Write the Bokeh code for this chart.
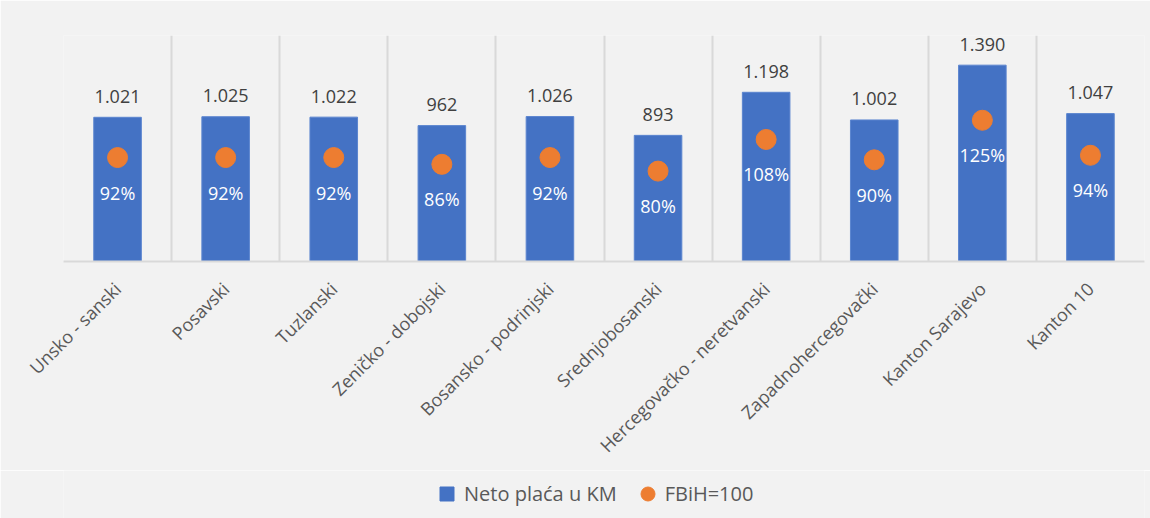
import math
from bokeh.plotting import figure
from bokeh.layouts import column
from bokeh.models import Range1d, FixedTicker, Legend, LegendItem
from bokeh.embed import file_html
from bokeh.resources import INLINE
from bokeh.core.properties import value

categories = ["Unsko - sanski", "Posavski", "Tuzlanski", "Zeničko - dobojski",
              "Bosansko - podrinjski", "Srednjobosanski", "Hercegovačko - neretvanski",
              "Zapadnohercegovački", "Kanton Sarajevo", "Kanton 10"]
neto_placa = [1021, 1025, 1022, 962, 1026, 893, 1198, 1002, 1390, 1047]
fbih_index = [92, 92, 92, 86, 92, 80, 108, 90, 125, 94]
series_names = ["Neto plaća u KM", "FBiH=100"]

placa_labels = [f"{v:,}".replace(",", ".") for v in neto_placa]
index_labels = [f"{v}%" for v in fbih_index]
xpos = [i + 0.5 for i in range(len(categories))]

FONT = "Open Sans"
BLUE = "#4472C4"
ORANGE = "#ED7D31"
GRID = "#D9D9D9"
BG = "#F2F2F2"

p = figure(width=1150, height=470, output_backend="svg", toolbar_location=None,
           x_range=Range1d(0, 10), y_range=Range1d(0, 1600),
           y_axis_location=None, min_border_left=63, min_border_right=6,
           min_border_top=35, min_border_bottom=209)
p.extra_y_ranges = {"pct": Range1d(0, 200)}
p.background_fill_color = BG
p.border_fill_color = BG
p.outline_line_color = None

p.vbar(x=xpos, top=neto_placa, width=0.44, bottom=0,
       fill_color=BLUE, line_color="#5B85CF", line_width=1)
p.scatter(x=xpos, y=fbih_index, y_range_name="pct", size=20,
          fill_color=ORANGE, line_color=ORANGE)

p.text(x=xpos, y=neto_placa, text=placa_labels, y_offset=-21,
       text_align="center", text_baseline="middle",
       text_font=value(FONT), text_font_size="18px", text_color="#404040")
p.text(x=xpos, y=fbih_index, y_range_name="pct", text=index_labels, y_offset=35,
       text_align="center", text_baseline="middle",
       text_font=value(FONT), text_font_size="18px", text_color="#FFFFFF")

ax = p.xaxis[0]
ax.ticker = FixedTicker(ticks=xpos)
ax.major_label_overrides = {x: c for x, c in zip(xpos, categories)}
ax.major_label_orientation = math.pi / 4
ax.major_label_text_font = FONT
ax.major_label_text_font_size = "18px"
ax.major_label_text_color = "#595959"
ax.major_tick_line_color = None
ax.minor_tick_line_color = None
ax.axis_line_color = GRID
ax.axis_line_width = 2
ax.major_label_standoff = 18

p.xgrid.ticker = FixedTicker(ticks=list(range(11)))
p.xgrid.grid_line_color = GRID
p.xgrid.grid_line_width = 2
p.ygrid.grid_line_color = None

# legend strip below the chart
lp = figure(width=1150, height=48, output_backend="svg", toolbar_location=None,
            x_range=Range1d(0, 1), y_range=Range1d(0, 1),
            x_axis_location=None, y_axis_location=None,
            min_border_left=63, min_border_right=6, min_border_top=0, min_border_bottom=0)
lp.background_fill_color = BG
lp.border_fill_color = BG
lp.outline_line_color = None
lp.grid.grid_line_color = None
# legend swatches: one point each, placed outside the visible range
lg_bar = lp.scatter(x=[-5], y=[-5], marker="square", size=14, fill_color=BLUE, line_color=BLUE)
lg_dot = lp.scatter(x=[-5], y=[-5], marker="circle", size=14, fill_color=ORANGE, line_color=ORANGE)

leg = Legend(items=[LegendItem(label=series_names[0], renderers=[lg_bar]),
                    LegendItem(label=series_names[1], renderers=[lg_dot])],
             location=(366, 7), orientation="horizontal", padding=0, margin=0,
             spacing=13, glyph_width=35, glyph_height=35, label_height=35,
             label_standoff=-4, border_line_color=None, background_fill_alpha=0,
             label_text_font=FONT, label_text_font_size="20px",
             label_text_color="#595959")
lp.add_layout(leg)

layout = column(p, lp, spacing=0)
open("out.html", "w").write(file_html(layout, INLINE))
